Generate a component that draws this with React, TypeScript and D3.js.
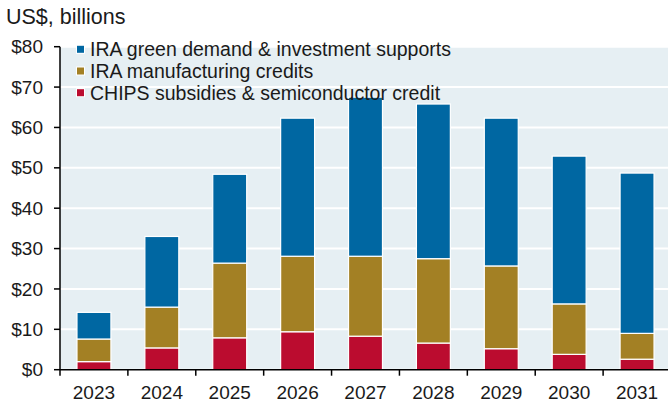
import React from "react";
import * as d3 from "d3";

const years = ["2023", "2024", "2025", "2026", "2027", "2028", "2029", "2030", "2031"];
const chips = [2.0, 5.4, 7.9, 9.4, 8.3, 6.6, 5.2, 3.8, 2.6];
const manufacturing = [5.6, 10.1, 18.5, 18.7, 19.8, 20.9, 20.5, 12.5, 6.4];
const greenDemand = [6.6, 17.5, 22.0, 34.2, 39.4, 38.3, 36.6, 36.6, 39.7];
const yTicks = [0, 10, 20, 30, 40, 50, 60, 70, 80];
const seriesNames = [
  "IRA green demand & investment supports",
  "IRA manufacturing credits",
  "CHIPS subsidies & semiconductor credit",
];
const colors = ["#0067a2", "#a38024", "#bb0c2f"];

export default function App() {
  const W = 668, H = 402;
  const left = 60, top = 46.7, bottom = 369.7, right = 671;
  const x = d3.scaleBand<string>().domain(years).range([left, right]).paddingInner(0.5).paddingOuter(0.25);
  const y = d3.scaleLinear().domain([0, 80]).range([bottom, top]);
  const rows = years.map((yr, i) => ({ year: yr, chips: chips[i], manu: manufacturing[i], green: greenDemand[i] }));
  const stacked = d3.stack<any>().keys(["chips", "manu", "green"])(rows);
  const colorByKey: Record<string, string> = { chips: colors[2], manu: colors[1], green: colors[0] };
  const step = (right - left) / years.length;
  const font = "'Liberation Sans', Arial, sans-serif";
  return (
    <svg width={W} height={H} style={{ position: "absolute", left: 0, top: 0 }} fontFamily={font}>
      <rect x={0} y={0} width={W} height={H} fill="#ffffff" />
      <rect x={left} y={top} width={W - left} height={bottom - top} fill="#e6eff3" />
      {yTicks.map((t) => (
        <line key={"g" + t} x1={left} x2={W} y1={y(t)} y2={y(t)} stroke="#ffffff" strokeWidth={2} />
      ))}
      {stacked.map((s) =>
        s.map((d: any, i: number) => (
          <rect
            key={s.key + i}
            x={x(years[i])!}
            y={y(d[1])}
            width={x.bandwidth()}
            height={y(d[0]) - y(d[1])}
            fill={colorByKey[s.key]}
            stroke="#ffffff"
            strokeWidth={1.2}
          />
        ))
      )}
      <line x1={left} x2={left} y1={top} y2={bottom} stroke="#000" strokeWidth={1.5} />
      <line x1={left} x2={W} y1={bottom} y2={bottom} stroke="#000" strokeWidth={1.5} />
      {yTicks.map((t) => (
        <g key={"t" + t}>
          <line x1={left - 6} x2={left} y1={y(t)} y2={y(t)} stroke="#000" strokeWidth={1.5} />
          <text x={43} y={y(t)} dy="0.35em" textAnchor="end" fontSize={19} fill="#1a1a1a">
            {"$" + t}
          </text>
        </g>
      ))}
      {years.map((yr, i) => (
        <g key={"x" + yr}>
          <line x1={left + i * step} x2={left + i * step} y1={bottom} y2={bottom + 6} stroke="#000" strokeWidth={1.5} />
          <text x={x(yr)! + x.bandwidth() / 2} y={398.5} textAnchor="middle" fontSize={19} fill="#1a1a1a">
            {yr}
          </text>
        </g>
      ))}
      <text x={6} y={24} fontSize={21.5} fill="#1a1a1a">US$, billions</text>
      {seriesNames.map((n, i) => {
        const cy = 49.3 + i * 21.7;
        return (
          <g key={n}>
            <rect x={76} y={cy - 4.5} width={9} height={9} fill="#fff" />
            <rect x={77} y={cy - 3.5} width={7} height={7} fill={colors[i]} />
            <text x={90} y={cy} dy="0.35em" fontSize={19.5} fill="#1a1a1a">{n}</text>
          </g>
        );
      })}
    </svg>
  );
}
